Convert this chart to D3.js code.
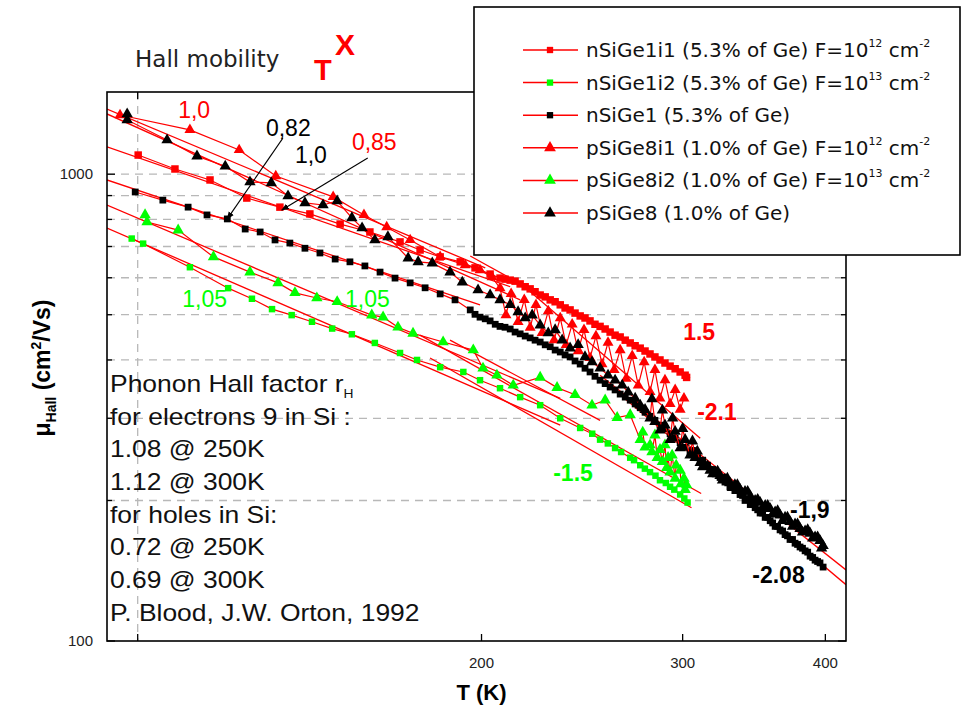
<!DOCTYPE html>
<html>
<head>
<meta charset="utf-8">
<script src="https://cdn.jsdelivr.net/npm/d3@7"></script>
<style>
  body { margin: 0; background: #fff; }
  svg { display: block; }
</style>
</head>
<body>
<svg id="chart" width="961" height="710"></svg>
<script>
// ---- measured Hall mobility, [T (K), mu (cm^2/Vs)] ----
const nSiGe1i1 = [[100.1,1099],[107.8,1026],[115.7,972],[124.6,889],[133.2,850],[141.5,822],[150.4,782],[159.7,752],[169.7,716],[176.7,688],[184.0,665],[191.6,649],[197.4,630],[203.5,611],[207.6,599],[209.7,596],[211.9,593],[214.0,590],[216.2,582],[218.4,574],[220.6,568],[222.8,560],[225.1,551],[227.4,546],[229.7,538],[232.0,533],[234.4,525],[236.7,517],[239.1,512],[241.5,504],[244.0,497],[246.4,492],[248.9,485],[251.4,477],[254.0,472],[256.6,466],[259.2,459],[261.8,452],[264.5,448],[267.2,441],[269.9,435],[272.6,429],[275.4,424],[278.1,418],[280.9,412],[283.7,406],[286.6,400],[289.5,394],[292.5,388],[295.5,383],[298.5,377],[301.5,371],[302.4,367]];

const nSiGe1i2 = [[98.8,728],[101.1,710],[111.1,632],[120.0,570],[125.9,541],[131.1,514],[136.4,499],[142.1,483],[148.0,467],[154.0,454],[161.3,435],[169.7,414],[175.6,400],[184.0,386],[192.8,377],[199.4,362],[207.6,348],[216.2,333],[225.1,320],[234.4,300],[244.0,286],[250.0,278],[254.0,270],[258.0,265],[261.8,259],[265.0,254],[269.9,247],[272.0,244],[275.4,238],[278.0,234],[280.9,230],[284.0,226],[286.6,221],[290.0,218],[292.5,214],[295.0,211],[298.5,206],[301.0,202],[303.0,198]];

const nSiGe1 = [[99.5,916],[105.2,880],[110.7,850],[115.0,818],[119.8,802],[124.2,763],[128.0,752],[131.9,723],[135.9,712],[140.1,694],[144.4,678],[148.9,658],[153.4,649],[158.1,636],[163.0,617],[168.0,599],[173.2,585],[178.5,571],[184.0,554],[189.6,538],[195.5,512],[197.4,501],[199.4,494],[201.5,490],[203.5,485],[205.6,477],[207.6,472],[209.7,470],[211.9,466],[214.0,459],[216.2,455],[218.4,450],[220.6,446],[222.8,441],[225.1,437],[227.4,431],[229.7,427],[232.0,420],[234.4,416],[236.7,410],[239.1,406],[241.5,398],[244.0,392],[246.4,384],[248.9,377],[251.4,369],[254.0,362],[256.6,356],[259.2,350],[261.8,345],[264.5,338],[267.2,333],[269.9,328],[272.6,322],[275.4,316],[278.1,309],[280.9,303],[283.7,297],[286.6,290],[289.5,285],[292.5,278],[295.5,272],[298.5,266],[301.5,260],[304.5,254],[306.0,256],[307.6,249],[309.2,247],[310.8,243],[312.4,244],[313.9,238],[315.5,238],[317.1,233],[318.7,233],[320.3,228],[321.9,229],[323.5,224],[325.1,224],[326.7,219],[328.3,219],[330.0,214],[331.6,215],[333.3,210],[335.0,210],[336.8,206],[338.5,205],[340.2,200],[342.0,201],[343.8,196],[345.5,196],[347.2,193],[349.0,191],[350.7,188],[352.5,188],[354.3,184],[356.1,184],[357.9,181],[359.7,179],[361.5,176],[363.3,176],[365.1,173],[367.0,172],[368.8,169],[370.6,168],[372.5,165],[374.4,165],[376.3,162],[378.2,161],[380.1,159],[382.0,158],[384.0,156],[386.0,155],[387.9,152],[389.9,151],[391.8,149],[393.8,148],[395.7,147],[398.2,144]];

const pSiGe8i1 = [[96.5,1339],[111.1,1244],[122.7,1127],[132.1,991],[148.3,894],[157.8,818],[165.2,770],[173.2,723],[184.0,665],[193.5,639],[199.4,623],[204.3,602],[207.6,570],[210.1,499],[212.3,554],[215.3,483],[218.0,538],[220.6,469],[223.2,525],[226.0,457],[228.8,509],[231.5,441],[234.4,492],[237.2,431],[240.1,477],[243.0,418],[245.9,464],[248.9,404],[251.9,450],[255.0,392],[258.1,436],[261.3,381],[264.5,420],[267.7,365],[271.0,408],[274.3,353],[277.6,396],[280.9,342],[283.7,381],[286.6,331],[289.5,362],[292.5,322],[295.5,345],[298.5,313],[300.8,331]];

const pSiGe8i2 = [[101.5,818],[101.9,790],[108.5,759],[116.5,665],[125.4,617],[132.7,585],[137.3,557],[143.5,543],[149.5,533],[160.3,499],[164.0,494],[169.0,470],[174.2,456],[185.1,437],[196.7,420],[200.6,384],[206.3,371],[213.2,353],[225.1,367],[232.9,349],[241.5,337],[249.9,320],[256.6,328],[262.9,301],[269.9,305],[275.4,270],[276.8,280],[278.1,260],[280.9,263],[282.0,254],[283.7,276],[285.0,247],[286.6,257],[288.0,242],[289.5,263],[290.5,235],[291.3,247],[292.5,230],[293.7,250],[295.5,223],[296.1,238],[298.5,232],[299.0,217],[300.8,223],[301.5,211],[302.4,216]];

const pSiGe8 = [[97.9,1346],[97.9,1307],[106.1,1184],[112.7,1093],[119.3,1040],[125.4,962],[130.9,958],[135.4,898],[140.1,868],[145.3,859],[149.5,876],[154.0,806],[157.2,767],[161.3,723],[165.6,734],[172.5,661],[176.0,649],[181.1,645],[187.7,617],[192.4,587],[198.6,565],[203.5,551],[207.6,538],[211.9,525],[215.3,507],[218.4,492],[221.5,499],[225.1,475],[228.8,457],[232.0,464],[235.3,441],[239.1,424],[243.0,431],[246.4,406],[249.9,396],[254.0,384],[258.1,371],[261.8,362],[265.6,353],[268.8,341],[272.6,331],[275.4,320],[278.1,313],[280.9,300],[282.0,330],[283.7,295],[286.6,283],[288.0,312],[289.5,290],[292.5,270],[294.0,300],[295.5,281],[298.5,259],[300.0,285],[301.5,270],[304.5,250],[306.0,268],[307.6,247],[309.0,255],[310.8,241],[312.3,236],[313.9,238],[315.5,237],[317.1,232],[318.7,228],[320.3,230],[321.9,231],[323.5,226],[325.1,221],[326.7,222],[328.3,223],[330.0,218],[331.6,213],[333.3,216],[335.0,216],[336.8,211],[338.5,206],[340.2,209],[342.0,209],[343.8,204],[345.5,200],[347.2,200],[349.0,201],[350.7,198],[352.5,193],[354.3,195],[356.1,195],[357.9,192],[359.7,187],[361.5,189],[363.3,190],[365.1,186],[366.9,181],[368.8,184],[370.6,184],[372.5,180],[374.4,176],[376.3,178],[378.2,178],[380.1,174],[382.0,171],[384.0,172],[386.0,173],[387.9,170],[389.9,166],[391.8,167],[393.8,167],[395.7,164],[397.0,158],[398.2,160]];

// power-law fit segments, end points [T, mu]
const fitSegments = [
  [[94,1379],[201.5,630]],
  [[94,1346],[216.2,538]],
  [[94,1144],[211.9,574]],
  [[94,972],[199.4,525]],
  [[94,859],[234.4,331]],
  [[94,767],[234.4,290]],
  [[195.5,668],[304.5,366]],
  [[216.2,585],[310.8,272]],
  [[176.7,452],[311.4,207]],
  [[180.3,404],[305.4,193]],
  [[187.7,441],[254.0,297]],
  [[254.0,371],[417,142]],
  [[264.5,337],[417,132]]
];

// axis ticks
const xTicks = [100, 200, 300, 400];
const xTickLabels = ["", "200", "300", "400"];
const yMajor = [100, 1000];
const yMinor = [200, 300, 400, 500, 600, 700, 800, 900];
const yGrid = [200, 300, 400, 500, 600, 700, 800, 900, 1000];

// legend entries (series order)
const legendNames = [
  ["nSiGe1i1 (5.3% of Ge) F=10", "12", " cm", "-2"],
  ["nSiGe1i2 (5.3% of Ge) F=10", "13", " cm", "-2"],
  ["nSiGe1 (5.3% of Ge)"],
  ["pSiGe8i1 (1.0% of Ge) F=10", "12", " cm", "-2"],
  ["pSiGe8i2 (1.0% of Ge) F=10", "13", " cm", "-2"],
  ["pSiGe8 (1.0% of Ge)"]
];

// exponent labels, anchored at [T, mu]
const slopeLabels = [
  {text: "1,0",   at: [108.5, 1320], fill: "#ff0000", bold: false},
  {text: "0,82",  at: [129.5, 1207], fill: "#000000", bold: false},
  {text: "1,0",   at: [137.3, 1057], fill: "#000000", bold: false},
  {text: "0,85",  at: [154.0, 1127], fill: "#ff0000", bold: false},
  {text: "1,05",  at: [109.4, 520],  fill: "#00ff00", bold: false},
  {text: "1,05",  at: [151.9, 520],  fill: "#00ff00", bold: false},
  {text: "1.5",   at: [300.3, 441],  fill: "#ff0000", bold: true},
  {text: "-2.1",  at: [308.9, 297],  fill: "#ff0000", bold: true},
  {text: "-1.5",  at: [231.1, 220],  fill: "#00ff00", bold: true},
  {text: "-1,9",  at: [372.5, 183],  fill: "#000000", bold: true},
  {text: "-2.08", at: [345.2, 133],  fill: "#000000", bold: true}
];
const pointerArrows = [
  [[134.0, 1195], [119.8, 802]],
  [[159.0, 1083], [133.7, 838]]
];

const noteLines = [
  ["Phonon Hall factor r", "H"],
  ["for electrons 9 in Si :"],
  ["1.08 @ 250K"],
  ["1.12 @ 300K"],
  ["for holes in Si:"],
  ["0.72 @ 250K"],
  ["0.69 @ 300K"],
  ["P. Blood, J.W. Orton, 1992"]
];

// ---- drawing ----
const svg = d3.select("#chart");
const P = {left: 107, right: 846, top: 92, bottom: 641};
const x = d3.scaleLog().domain([94, 417]).range([P.left, P.right]);
const y = d3.scaleLog().domain([100, 1500]).range([P.bottom, P.top]);

const RED = "#ff0000", GREEN = "#00ff00", BLACK = "#000000";
const series = [
  {data: nSiGe1i1, color: RED,   shape: d3.symbolSquare,   size: 56},
  {data: nSiGe1i2, color: GREEN, shape: d3.symbolSquare,   size: 42},
  {data: nSiGe1,   color: BLACK, shape: d3.symbolSquare,   size: 46},
  {data: pSiGe8i1, color: RED,   shape: d3.symbolTriangle, size: 52},
  {data: pSiGe8i2, color: GREEN, shape: d3.symbolTriangle, size: 56},
  {data: pSiGe8,   color: BLACK, shape: d3.symbolTriangle, size: 56}
];

svg.append("rect").attr("width", 961).attr("height", 710).attr("fill", "#fff");

const defs = svg.append("defs");
defs.append("clipPath").attr("id", "plotClip")
  .append("rect").attr("x", P.left).attr("y", P.top)
  .attr("width", P.right - P.left).attr("height", P.bottom - P.top);
defs.append("marker").attr("id", "arrowHead")
  .attr("viewBox", "0 0 10 10").attr("refX", 9).attr("refY", 5)
  .attr("markerWidth", 7).attr("markerHeight", 7).attr("orient", "auto")
  .append("path").attr("d", "M0,1 L10,5 L0,9 Z").attr("fill", "#000");

// grid
const grid = svg.append("g").attr("stroke", "#b8b8b8").attr("stroke-width", 1.3)
  .attr("stroke-dasharray", "8,6");
grid.selectAll("line.h").data(yGrid).join("line").attr("class", "h")
  .attr("x1", P.left).attr("x2", P.right)
  .attr("y1", d => y(d)).attr("y2", d => y(d));
grid.append("line")
  .attr("x1", x(100)).attr("x2", x(100)).attr("y1", P.top).attr("y2", P.bottom);

// data
const plotG = svg.append("g").attr("clip-path", "url(#plotClip)");
const line = d3.line().x(d => x(d[0])).y(d => y(d[1]));

plotG.selectAll("path.fit").data(fitSegments).join("path").attr("class", "fit")
  .attr("d", line).attr("fill", "none").attr("stroke", RED).attr("stroke-width", 1.3);

series.forEach(s => {
  const g = plotG.append("g");
  g.append("path").datum(s.data).attr("d", line)
    .attr("fill", "none").attr("stroke", RED).attr("stroke-width", 1.2);
  g.selectAll("path.m").data(s.data).join("path").attr("class", "m")
    .attr("d", d3.symbol().type(s.shape).size(s.size))
    .attr("transform", d => `translate(${x(d[0])},${y(d[1])})`)
    .attr("fill", s.color);
});

// arrows
svg.selectAll("line.arrow").data(pointerArrows).join("line").attr("class", "arrow")
  .attr("x1", d => x(d[0][0])).attr("y1", d => y(d[0][1]))
  .attr("x2", d => x(d[1][0])).attr("y2", d => y(d[1][1]))
  .attr("stroke", "#000").attr("stroke-width", 1.1)
  .attr("marker-end", "url(#arrowHead)");

// exponent labels
svg.selectAll("text.slope").data(slopeLabels).join("text").attr("class", "slope")
  .attr("x", d => x(d.at[0])).attr("y", d => y(d.at[1]))
  .attr("fill", d => d.fill)
  .attr("font-family", "'Liberation Sans', Arial, sans-serif")
  .attr("font-size", 23)
  .attr("font-weight", d => d.bold ? "bold" : "normal")
  .text(d => d.text);

// notes block
const notes = svg.append("g").attr("transform", "translate(110,0) scale(1.15,1)")
  .attr("font-family", "'Liberation Sans', Arial, sans-serif")
  .attr("font-size", 23).attr("fill", "#111");
noteLines.forEach((ln, i) => {
  const t = notes.append("text").attr("x", 0).attr("y", 392 + i * 32.7);
  t.append("tspan").text(ln[0]);
  if (ln[1]) t.append("tspan").attr("font-size", 12).attr("dy", 6).text(ln[1]);
});

// frame & ticks
const frame = svg.append("g").attr("stroke", "#000").attr("stroke-width", 1.6).attr("fill", "none");
frame.append("rect").attr("x", P.left).attr("y", P.top)
  .attr("width", P.right - P.left).attr("height", P.bottom - P.top);
const ticks = svg.append("g").attr("stroke", "#000").attr("stroke-width", 1.3);
yMajor.forEach(v => {
  ticks.append("line").attr("x1", P.left).attr("x2", P.left + 8).attr("y1", y(v)).attr("y2", y(v));
  ticks.append("line").attr("x1", P.right).attr("x2", P.right - 8).attr("y1", y(v)).attr("y2", y(v));
});
yMinor.forEach(v => {
  ticks.append("line").attr("x1", P.left).attr("x2", P.left + 5).attr("y1", y(v)).attr("y2", y(v));
  ticks.append("line").attr("x1", P.right).attr("x2", P.right - 5).attr("y1", y(v)).attr("y2", y(v));
});
xTicks.forEach(v => {
  ticks.append("line").attr("x1", x(v)).attr("x2", x(v)).attr("y1", P.bottom).attr("y2", P.bottom - 7);
  ticks.append("line").attr("x1", x(v)).attr("x2", x(v)).attr("y1", P.top).attr("y2", P.top + 7);
});

const tickFont = "'Liberation Sans', Arial, sans-serif";
svg.selectAll("text.yt").data(yMajor).join("text").attr("class", "yt")
  .attr("x", 93).attr("y", d => y(d) + 5).attr("text-anchor", "end")
  .attr("font-family", tickFont).attr("font-size", 15).attr("fill", "#222")
  .text(d => d);
svg.selectAll("text.xt").data(xTicks).join("text").attr("class", "xt")
  .attr("x", d => x(d)).attr("y", 668).attr("text-anchor", "middle")
  .attr("font-family", tickFont).attr("font-size", 15).attr("fill", "#222")
  .text((d, i) => xTickLabels[i]);

// axis titles
svg.append("text").attr("x", x(200)).attr("y", 700).attr("text-anchor", "middle")
  .attr("font-family", tickFont).attr("font-size", 22).attr("font-weight", "bold")
  .text("T (K)");
const yt = svg.append("text").attr("transform", "translate(50,368) rotate(-90)")
  .attr("text-anchor", "middle").attr("font-family", tickFont)
  .attr("font-size", 23).attr("font-weight", "bold");
yt.append("tspan").text("\u03bc");
yt.append("tspan").attr("font-size", 14).attr("dy", 6).text("Hall");
yt.append("tspan").attr("dy", -6).text(" (cm");
yt.append("tspan").attr("font-size", 14).attr("dy", -9).text("2");
yt.append("tspan").attr("dy", 9).text("/Vs)");

// title
svg.append("text").attr("x", 135).attr("y", 67)
  .attr("font-family", "'DejaVu Sans', Verdana, sans-serif").attr("font-size", 23)
  .attr("fill", "#222").text("Hall mobility");
svg.append("text").attr("x", 314).attr("y", 80).attr("fill", RED)
  .attr("font-family", tickFont).attr("font-size", 29).attr("font-weight", "bold").text("T");
svg.append("text").attr("x", 335).attr("y", 55).attr("fill", RED)
  .attr("font-family", tickFont).attr("font-size", 30).attr("font-weight", "bold").text("X");

// legend
const lg = svg.append("g");
lg.append("rect").attr("x", 474).attr("y", 7).attr("width", 486).attr("height", 248)
  .attr("fill", "#fff").attr("stroke", "#000").attr("stroke-width", 1.6);
legendNames.forEach((nm, i) => {
  const cy = 50 + i * 32.6;
  const s = series[i];
  lg.append("line").attr("x1", 523).attr("x2", 578).attr("y1", cy).attr("y2", cy)
    .attr("stroke", RED).attr("stroke-width", 1.5);
  lg.append("path").attr("d", d3.symbol().type(s.shape).size(s.shape === d3.symbolSquare ? 40 : 60))
    .attr("transform", `translate(550,${cy})`).attr("fill", s.color);
  const t = lg.append("text").attr("x", 586).attr("y", cy + 7)
    .attr("font-family", "'DejaVu Sans', Verdana, sans-serif").attr("font-size", 20).attr("fill", "#111");
  t.append("tspan").text(nm[0]);
  if (nm.length > 1) {
    t.append("tspan").attr("font-size", 11).attr("dy", -10).text(nm[1]);
    t.append("tspan").attr("dy", 10).text(nm[2]);
    t.append("tspan").attr("font-size", 11).attr("dy", -10).text(nm[3]);
  }
});
</script>
</body>
</html>
